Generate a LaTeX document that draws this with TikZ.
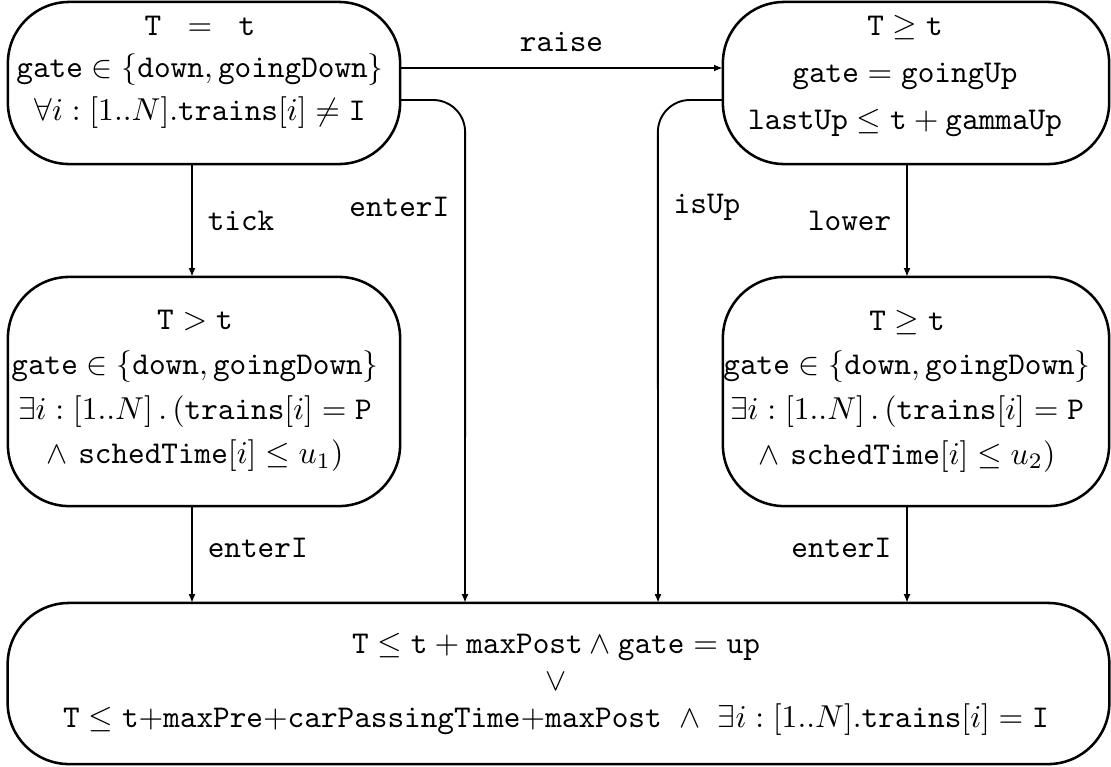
\documentclass[tikz,border=0pt]{standalone}
\usetikzlibrary{calc,arrows.meta}
\newcommand{\tv}[1]{\mathtt{#1}}

\begin{document}
\begin{tikzpicture}[x=0.0111cm,y=-0.0111cm,every node/.style={outer sep=0pt}]

\tikzstyle{state}=[draw,line width=0.8pt,rounded corners=0.68cm,inner sep=0pt]
\tikzstyle{inv}=[align=center,inner sep=0pt]
\tikzstyle{lbl}=[inner sep=5pt,font=\ttfamily]
\tikzstyle{flow}=[-{Latex[length=2.8pt,width=2.2pt]},line width=0.6pt]

\useasboundingbox (0,0) rectangle (1111,766);

% states
\node (A) [state,minimum width=4.351cm,minimum height=1.798cm] at (204,83) {};
\node (B) [state,minimum width=4.285cm,minimum height=1.798cm] at (916,83) {};
\node (C) [state,minimum width=4.351cm,minimum height=2.542cm] at (204,391.5) {};
\node (D) [state,minimum width=4.285cm,minimum height=2.542cm] at (916,391.5) {};
\node (E) [state,minimum width=12.221cm,minimum height=1.787cm] at (558.5,683.5) {};

% invariants
\node (A-inv) [inv,font=\fontsize{10}{13.4}\selectfont] at (200,72) {%
  $\tv{T}\;\;=\;\;\tv{t}$\\
  $\tv{gate}\in\{\tv{down},\tv{goingDown}\}$\\
  $\forall i:[1..N].\tv{trains}[i]\neq\tv{I}$};
\node (B-inv) [inv,font=\fontsize{10}{14.8}\selectfont] at (905,76) {%
  $\tv{T}\geq\tv{t}$\\
  $\tv{gate}=\tv{goingUp}$\\
  $\tv{lastUp}\leq\tv{t}+\tv{gammaUp}$};
\node (C-inv) [inv,font=\fontsize{10}{14.1}\selectfont] at (195,391) {%
  $\tv{T}>\tv{t}$\\
  $\tv{gate}\in\{\tv{down},\tv{goingDown}\}$\\
  $\exists i:[1..N]\,.\,(\tv{trains}[i]=\tv{P}$\\
  $\wedge\ \tv{schedTime}[i]\leq u_1)$};
\node (D-inv) [inv,font=\fontsize{10}{14.1}\selectfont] at (907,391) {%
  $\tv{T}\geq\tv{t}$\\
  $\tv{gate}\in\{\tv{down},\tv{goingDown}\}$\\
  $\exists i:[1..N]\,.\,(\tv{trains}[i]=\tv{P}$\\
  $\wedge\ \tv{schedTime}[i]\leq u_2)$};
\node (E-inv) [inv,font=\fontsize{10}{11.7}\selectfont] at (556,684) {%
  $\tv{T}\leq\tv{t}+\tv{maxPost}\wedge\tv{gate}=\tv{up}$\\
  $\vee$\\
  $\tv{T}\leq\tv{t}{+}\tv{maxPre}{+}\tv{carPassingTime}{+}\tv{maxPost}\ \wedge\ \exists i:[1..N].\tv{trains}[i]=\tv{I}$};

% bends of the side connectors
\coordinate (dropA) at (465,132);
\coordinate (dropB) at (658,132);

% transitions
\draw[flow] ($(A.east)+(0,-15)$) -- ($(B.west)+(0,-15)$) node[lbl,midway,above]{raise};
\draw[flow] ($(A.south)+(-12,0)$) -- ($(C.north)+(-12,0)$) node[lbl,midway,right]{tick};
\draw[flow] ($(B.south)+(-9,0)$) -- ($(D.north)+(-9,0)$) node[lbl,midway,left]{lower};
\draw[flow] ($(C.south)+(-12,0)$) -- ($(C.south |- E.north)+(-12,0)$) node[lbl,pos=0.43,right]{enterI};
\draw[flow] ($(D.south)+(-9,0)$) -- ($(D.south |- E.north)+(-9,0)$) node[lbl,pos=0.43,left]{enterI};
\draw[flow] ($(A.east)+(0,17)$) -- ++(33,0) arc[start angle=-90,end angle=0,radius=32]
    -- (dropA |- E.north) node[lbl,pos=0.16,left]{enterI};
\draw[flow] ($(B.west)+(0,17)$) -- ++(-33,0) arc[start angle=-90,end angle=-180,radius=32]
    -- (dropB |- E.north) node[lbl,pos=0.16,right]{isUp};
\end{tikzpicture}
\end{document}
